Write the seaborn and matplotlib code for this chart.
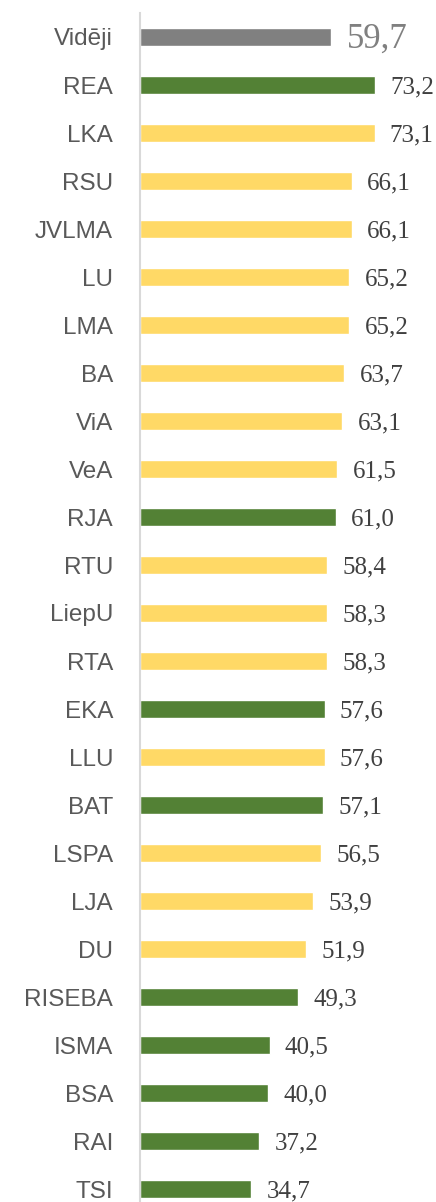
import matplotlib
matplotlib.use("Agg")
import matplotlib.pyplot as plt
import seaborn as sns
import pandas as pd
from matplotlib.transforms import offset_copy
from matplotlib import font_manager

categories = ["Vidēji", "REA", "LKA", "RSU", "JVLMA", "LU", "LMA", "BA", "ViA", "VeA",
              "RJA", "RTU", "LiepU", "RTA", "EKA", "LLU", "BAT", "LSPA", "LJA", "DU",
              "RISEBA", "ISMA", "BSA", "RAI", "TSI"]
values = [59.7, 73.2, 73.1, 66.1, 66.1, 65.2, 65.2, 63.7, 63.1, 61.5,
          61.0, 58.4, 58.3, 58.3, 57.6, 57.6, 57.1, 56.5, 53.9, 51.9,
          49.3, 40.5, 40.0, 37.2, 34.7]
groups = ["avg", "g", "y", "y", "y", "y", "y", "y", "y", "y",
          "g", "y", "y", "y", "g", "y", "g", "y", "y", "y",
          "g", "g", "g", "g", "g"]
palette = {"avg": "#808080", "g": "#538135", "y": "#FFD966"}

df = pd.DataFrame({"cat": categories, "val": values, "grp": groups})

sns.set_theme(style="white")
names = {f.name for f in font_manager.fontManager.ttflist}
narrow = "Liberation Sans Narrow" in names
plt.rcParams["font.family"] = ["Liberation Sans", "DejaVu Sans"]

fig = plt.figure(figsize=(4.36, 12.02), dpi=100)
ax = fig.add_axes([139.5 / 436, 0.0, 1 - 139.5 / 436, (1202 - 13) / 1202])

sns.barplot(data=df, x="val", y="cat", hue="grp", palette=palette, dodge=False,
            width=0.36, orient="h", ax=ax, legend=False, saturation=1)

ax.set_xlim(0, (436 - 139.5) / 3.215)
ax.set_ylim(24 + (1202 - 1189) / 48, -0.5)
ax.set_xlabel("")
ax.set_ylabel("")
ax.set_xticks([])
for s in ["top", "right", "bottom"]:
    ax.spines[s].set_visible(False)
ax.spines["left"].set_color("#d9d9d9")
ax.spines["left"].set_linewidth(1.5)
ax.tick_params(axis="y", length=0, pad=19, labelcolor="#595959")
for lab in ax.get_yticklabels():
    if narrow:
        lab.set_family(["Liberation Sans Narrow", "Liberation Sans"])
        lab.set_fontsize(20)
    else:
        lab.set_family(["Liberation Sans", "DejaVu Sans"])
        lab.set_fontsize(17.5)

for i, v in enumerate(values):
    txt = f"{v:.1f}".replace(".", ",")
    trans = offset_copy(ax.transData, fig=fig, x=11, y=-1.5, units="points")
    if i == 0:
        ax.text(v, i, txt, transform=trans, va="center", ha="left",
                family="Liberation Serif", fontsize=25, color="#808080")
    else:
        ax.text(v, i, txt, transform=trans, va="center", ha="left",
                family="Liberation Serif", fontsize=18, color="#404040")

fig.savefig("out.png", dpi=100)
